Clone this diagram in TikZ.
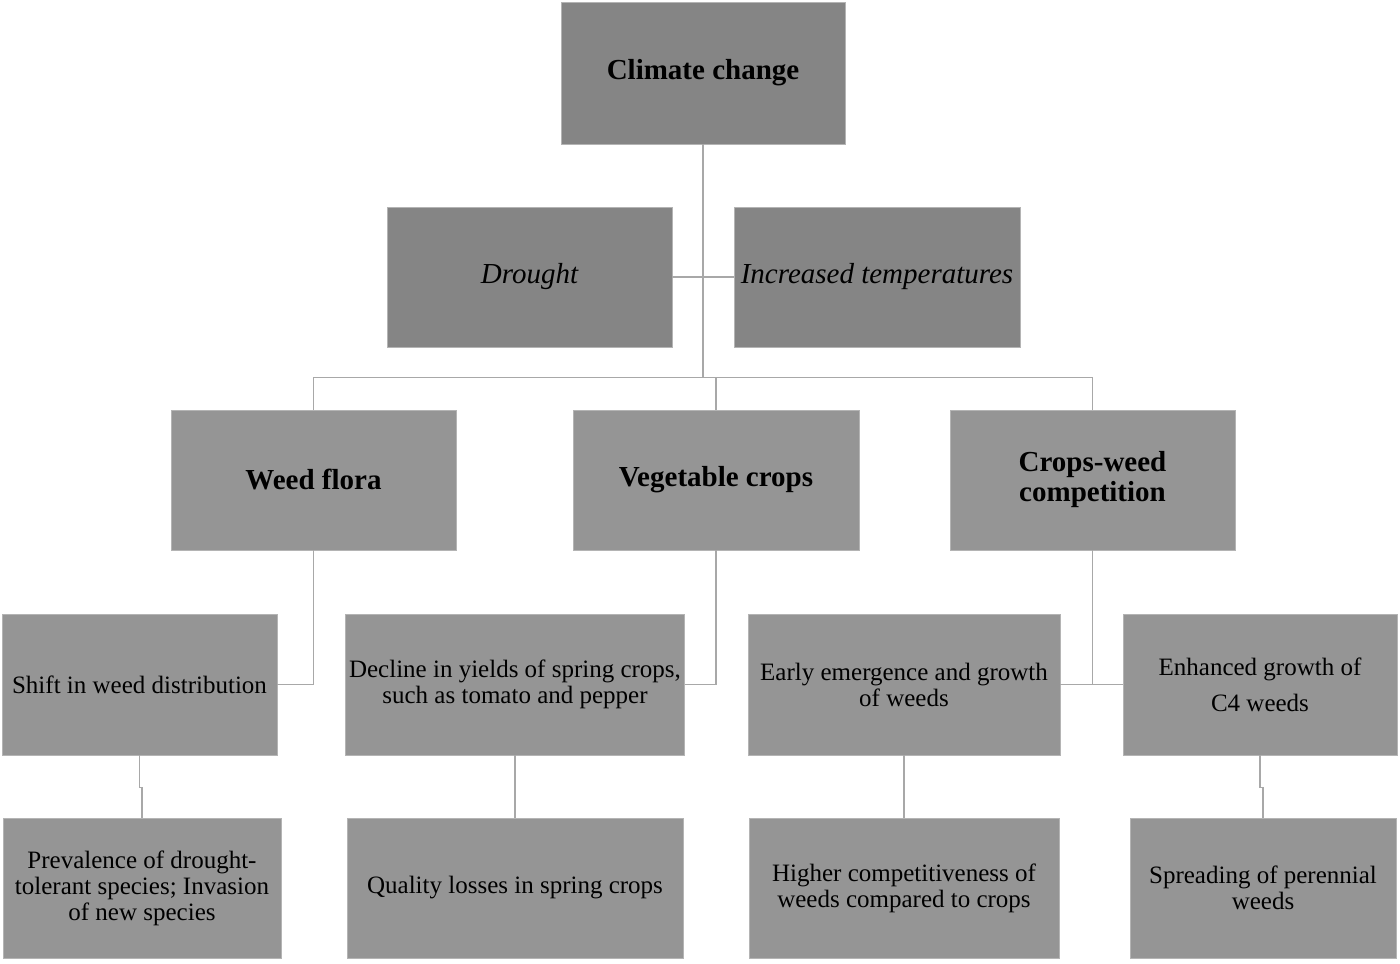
\documentclass[tikz,border=0pt]{standalone}
\usepackage{fontspec}
\setmainfont{Liberation Serif}
\definecolor{darkbox}{HTML}{858585}
\definecolor{lightbox}{HTML}{959595}
\definecolor{edgecol}{HTML}{B4B4B4}
\definecolor{linecol}{HTML}{A8A8A8}
\begin{document}
\begin{tikzpicture}[x=0.5pt,y=-0.5pt,
  boxbase/.style={rectangle, draw=edgecol, line width=0.4pt, inner sep=0pt, align=center, text=black},
  topbox/.style={boxbase, fill=darkbox, font=\fontsize{14.5}{15}\selectfont\bfseries},
  itbox/.style={boxbase, fill=darkbox, font=\fontsize{14.5}{15}\selectfont\itshape},
  midbox/.style={boxbase, fill=lightbox, font=\fontsize{14.5}{15}\selectfont\bfseries},
  lowbox/.style={boxbase, fill=lightbox, font=\fontsize{12.5}{13}\selectfont},
  conn/.style={draw=linecol, line width=0.7pt}]
\useasboundingbox (0,0) rectangle (1400,963);
\fill[white] (0,0) rectangle (1400,963);

% level 0
\node[topbox, minimum width=142pt, minimum height=71pt] (cc) at (703,73) {Climate change};
% level 1
\node[itbox, minimum width=142.5pt, minimum height=70pt] (dr) at (529.5,277) {Drought};
\node[itbox, minimum width=143pt, minimum height=70pt] (it) at (877,277) {Increased temperatures};
% level 2
\node[midbox, minimum width=142.5pt, minimum height=70pt] (wf) at (313.5,480) {Weed flora};
\node[midbox, minimum width=143pt, minimum height=70pt] (vc) at (716,480) {Vegetable crops};
\node[midbox, minimum width=142.5pt, minimum height=70pt] (cw) at (1092.5,480) {Crops-weed\\competition};
% level 3
\node[lowbox, minimum width=137.5pt, minimum height=70.5pt] (sh) at (139.5,684.5) {Shift in weed distribution};
\node[lowbox, minimum width=169.5pt, minimum height=70.5pt] (de) at (515,684.5) {Decline in yields of spring crops,\\such as tomato and pepper};
\node[lowbox, minimum width=156pt, minimum height=70.5pt] (ea) at (904,684.5) {Early emergence and growth\\of weeds};
\node[lowbox, minimum width=137pt, minimum height=70.5pt, font=\fontsize{12.5}{18}\selectfont] (en) at (1260,684.5) {Enhanced growth of\\C4 weeds};
% level 4
\node[lowbox, minimum width=139pt, minimum height=70pt] (pr) at (142,888) {Prevalence of drought-\\tolerant species; Invasion\\of new species};
\node[lowbox, minimum width=168pt, minimum height=70pt] (ql) at (515,888) {Quality losses in spring crops};
\node[lowbox, minimum width=155pt, minimum height=70pt] (hi) at (904,888) {Higher competitiveness of\\weeds compared to crops};
\node[lowbox, minimum width=133pt, minimum height=70pt] (sp) at (1263,888) {Spreading of perennial\\weeds};

% connectors
\coordinate (bus) at (703,378);
\draw[conn] (cc.south) -- (bus);
\draw[conn] (dr.east) -- (it.west);
\draw[conn] (wf.north) -- ++(0,-32) -| (cw.north);
\draw[conn] (vc.north) -- ++(0,-32);

\draw[conn] (wf.south) -- (wf.south |- sh.east) -- (sh.east);
\draw[conn] (vc.south) -- (vc.south |- de.east) -- (de.east);
\draw[conn] (cw.south) -- (cw.south |- ea.east);
\draw[conn] (ea.east) -- (en.west);

\draw[conn] (sh.south) -- ++(0,32) -| (pr.north);
\draw[conn] (de.south) -- (ql.north);
\draw[conn] (ea.south) -- (hi.north);
\draw[conn] (en.south) -- ++(0,32) -| (sp.north);
\end{tikzpicture}
\end{document}
